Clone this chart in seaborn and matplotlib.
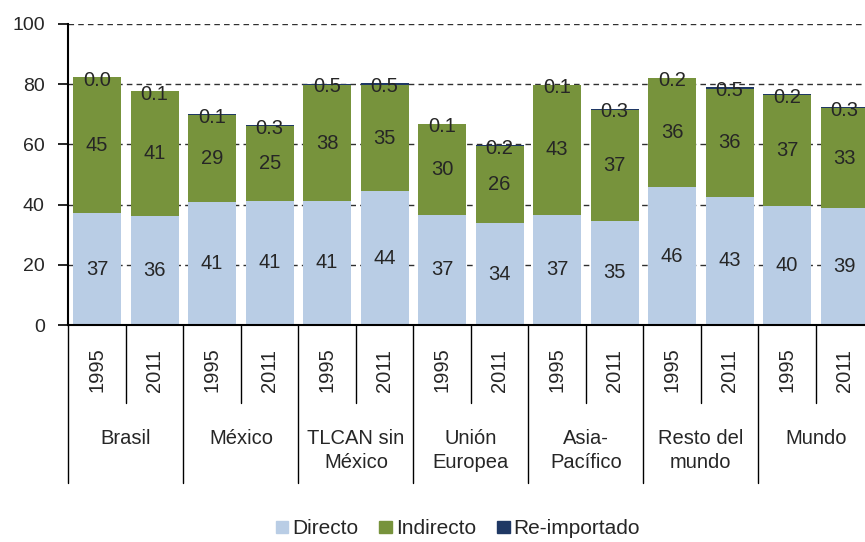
import numpy as np
import pandas as pd
import matplotlib
matplotlib.use("Agg")
import matplotlib.pyplot as plt
import matplotlib.patches as mpatches
import seaborn as sns

# Datos (porcentaje)
regiones = ["Brasil", "México", "TLCAN sin\nMéxico", "Unión\nEuropea",
            "Asia-\nPacífico", "Resto del\nmundo", "Mundo"]
anios = ["1995", "2011"]
directo = [37.1, 36.2, 40.8, 41.2, 41.2, 44.4, 36.6, 33.8, 36.6, 34.6, 45.8, 42.6, 39.6, 38.8]
indirecto = [45.2, 41.4, 29.1, 24.8, 38.4, 35.4, 30.1, 25.8, 43.1, 36.9, 36.2, 35.9, 36.8, 33.2]
reimportado = [0.0, 0.1, 0.1, 0.3, 0.5, 0.5, 0.1, 0.2, 0.1, 0.3, 0.2, 0.5, 0.2, 0.3]

COL_DIR = "#B9CDE5"
COL_IND = "#77933C"
COL_REI = "#1F3864"

sns.set_style("white")
plt.rcParams["font.family"] = ["Liberation Sans", "DejaVu Sans"]
FS = 14.5

claves = [f"{r}|{a}" for r in regiones for a in anios]
df = pd.DataFrame({
    "clave": claves,
    "directo": directo,
    "indirecto": indirecto,
    "reimportado": reimportado,
})
df["d_i"] = df["directo"] + df["indirecto"]
df["total"] = df["d_i"] + df["reimportado"]

W, H = 865, 542
fig = plt.figure(figsize=(W / 100, H / 100), dpi=100)
slot = 57.5
x0, ytop, ybot = 68.4, 24, 325
ax = fig.add_axes([x0 / W, 1 - ybot / H, 14 * slot / W, (ybot - ytop) / H])

# barras apiladas (superposición de acumulados)
for col, c in [("total", COL_REI), ("d_i", COL_IND), ("directo", COL_DIR)]:
    sns.barplot(data=df, x="clave", y=col, order=claves, color=c,
                saturation=1, width=0.83, ax=ax, linewidth=0, zorder=2)

ax.set_xlim(-0.5, 13.5)
ax.set_ylim(0, 100)
ax.set_yticks(np.arange(0, 101, 20))
ax.yaxis.grid(True, color="#303030", linestyle=(0, (4, 3)), linewidth=1)
ax.set_axisbelow(True)
for s in ["top", "right"]:
    ax.spines[s].set_visible(False)
for s in ["left", "bottom"]:
    ax.spines[s].set_color("black")
    ax.spines[s].set_linewidth(1.5)
ax.tick_params(axis="y", length=7, width=1.2, color="black", labelsize=14, pad=10, left=True)
ax.set_xticks([])
ax.set_xlabel("")
ax.set_ylabel("")

# etiquetas de valores
for i, row in df.iterrows():
    ax.text(i, row["directo"] / 2, f"{row['directo']:.0f}", ha="center", va="center", fontsize=FS)
    ax.text(i, row["directo"] + row["indirecto"] / 2, f"{row['indirecto']:.0f}",
            ha="center", va="center", fontsize=FS)
    ax.text(i, row["total"] - 1, f"{row['reimportado']:.1f}", ha="center", va="center", fontsize=FS)

# eje x de dos niveles
tr = ax.get_xaxis_transform()
h = ybot - ytop
y_corto = -(403 - ybot) / h
y_largo = -(483 - ybot) / h
for k in range(15):
    xb = k - 0.5
    yend = y_largo if k % 2 == 0 else y_corto
    ax.plot([xb, xb], [0, yend], color="black", linewidth=1, transform=tr, clip_on=False)
for i, a in enumerate(anios * len(regiones)):
    ax.text(i, -(370 - ybot) / h, a, rotation=90, ha="center", va="center",
            fontsize=FS, transform=tr)
for j, r in enumerate(regiones):
    ax.text(2 * j + 0.5, -(429 - ybot) / h, r, ha="center", va="top",
            fontsize=FS, transform=tr, linespacing=1.3)

handles = [mpatches.Patch(color=COL_DIR, label="Directo"),
           mpatches.Patch(color=COL_IND, label="Indirecto"),
           mpatches.Patch(color=COL_REI, label="Re-importado")]
fig.legend(handles=handles, loc="center", bbox_to_anchor=(458 / W, 1 - 529 / H), ncol=3,
           frameon=False, fontsize=15, handlelength=0.6, handleheight=0.55,
           handletextpad=0.2, columnspacing=1.0, borderpad=0)

fig.savefig("out.png", dpi=100)
